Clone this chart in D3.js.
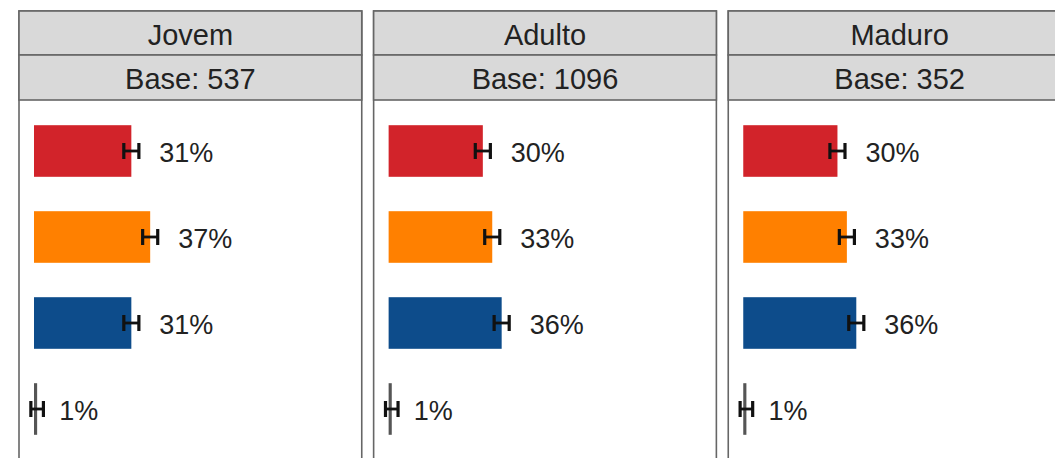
<!DOCTYPE html>
<html>
<head>
<meta charset="utf-8">
<script src="https://cdn.jsdelivr.net/npm/d3@7"></script>
<style>
  html, body { margin: 0; padding: 0; background: #fff; }
  svg { display: block; }
</style>
</head>
<body>
<svg id="chart" width="1055" height="458"></svg>
<script>
// ---- data ----
const panels = ["Jovem", "Adulto", "Maduro"];
const bases = [537, 1096, 352];
const categories = ["A", "B", "C", "D"];
const valuesJovem = [31, 37, 31, 1];
const valuesAdulto = [30, 33, 36, 1];
const valuesMaduro = [30, 33, 36, 1];
const errorMargin = [2.4, 2.4, 2.4, 2.0];
const barColors = ["#d2232a", "#ff8000", "#0d4c8b", "#555555"];

const seriesValues = [valuesJovem, valuesAdulto, valuesMaduro];

// ---- layout ----
const W = 1055, H = 458;
const svg = d3.select("#chart");
const panelScale = d3.scaleBand().domain(panels).range([19, 19 + 3 * 343 + 2 * 11.5]).paddingInner(0.0335);
const panelW = panelScale.bandwidth();
const topY = 11, h1 = 44, h2 = 45;
const bodyTop = topY + h1 + h2;

const x = d3.scaleLinear().domain([0, 100]).range([15, 15 + 314]);
const y = d3.scaleBand().domain(categories).range([bodyTop + 8, bodyTop + 8 + 4 * 86]).paddingInner(0.4).paddingOuter(0.2);

panels.forEach((p, i) => {
  const g = svg.append("g").attr("transform", `translate(${panelScale(p)},0)`);
  // body
  g.append("rect").attr("x", 0).attr("y", topY).attr("width", panelW).attr("height", H + 20)
    .attr("fill", "#fff").attr("stroke", "#666").attr("stroke-width", 1.6);
  // header rows
  g.append("rect").attr("x", 0).attr("y", topY).attr("width", panelW).attr("height", h1)
    .attr("fill", "#d9d9d9").attr("stroke", "#666").attr("stroke-width", 1.6);
  g.append("rect").attr("x", 0).attr("y", topY + h1).attr("width", panelW).attr("height", h2)
    .attr("fill", "#d9d9d9").attr("stroke", "#666").attr("stroke-width", 1.6);
  g.append("text").attr("x", panelW / 2).attr("y", topY + h1 / 2 + 1.5).attr("text-anchor", "middle")
    .attr("dominant-baseline", "central").attr("font-family", "Liberation Sans, Arial, sans-serif")
    .attr("font-size", 29).attr("fill", "#222").text(p);
  g.append("text").attr("x", panelW / 2).attr("y", topY + h1 + h2 / 2 + 1.5).attr("text-anchor", "middle")
    .attr("dominant-baseline", "central").attr("font-family", "Liberation Sans, Arial, sans-serif")
    .attr("font-size", 29).attr("fill", "#222").text("Base: " + bases[i]);

  const vals = seriesValues[i];
  const rows = g.selectAll("g.row").data(categories).join("g").attr("class", "row");
  rows.append("rect")
    .attr("x", x(0))
    .attr("y", c => y(c))
    .attr("width", (c, j) => x(vals[j]) - x(0))
    .attr("height", y.bandwidth())
    .attr("fill", (c, j) => barColors[j]);
  // error bars (H shape)
  const cap = 16;
  rows.each(function (c, j) {
    const r = d3.select(this);
    const cy = y(c) + y.bandwidth() / 2;
    const lo = x(vals[j] - errorMargin[j]), hi = x(vals[j] + errorMargin[j]);
    r.append("line").attr("x1", lo).attr("x2", hi).attr("y1", cy).attr("y2", cy)
      .attr("stroke", "#111").attr("stroke-width", 2.8);
    r.append("line").attr("x1", lo).attr("x2", lo).attr("y1", cy - cap / 2).attr("y2", cy + cap / 2)
      .attr("stroke", "#111").attr("stroke-width", 3.2);
    r.append("line").attr("x1", hi).attr("x2", hi).attr("y1", cy - cap / 2).attr("y2", cy + cap / 2)
      .attr("stroke", "#111").attr("stroke-width", 3.2);
    r.append("text").attr("x", x(vals[j]) + (vals[j] > 5 ? 28 : 22)).attr("y", cy + 2)
      .attr("dominant-baseline", "central").attr("font-family", "Liberation Sans, Arial, sans-serif")
      .attr("font-size", 27).attr("fill", "#222").text(vals[j] + "%");
  });
});
</script>
</body>
</html>
